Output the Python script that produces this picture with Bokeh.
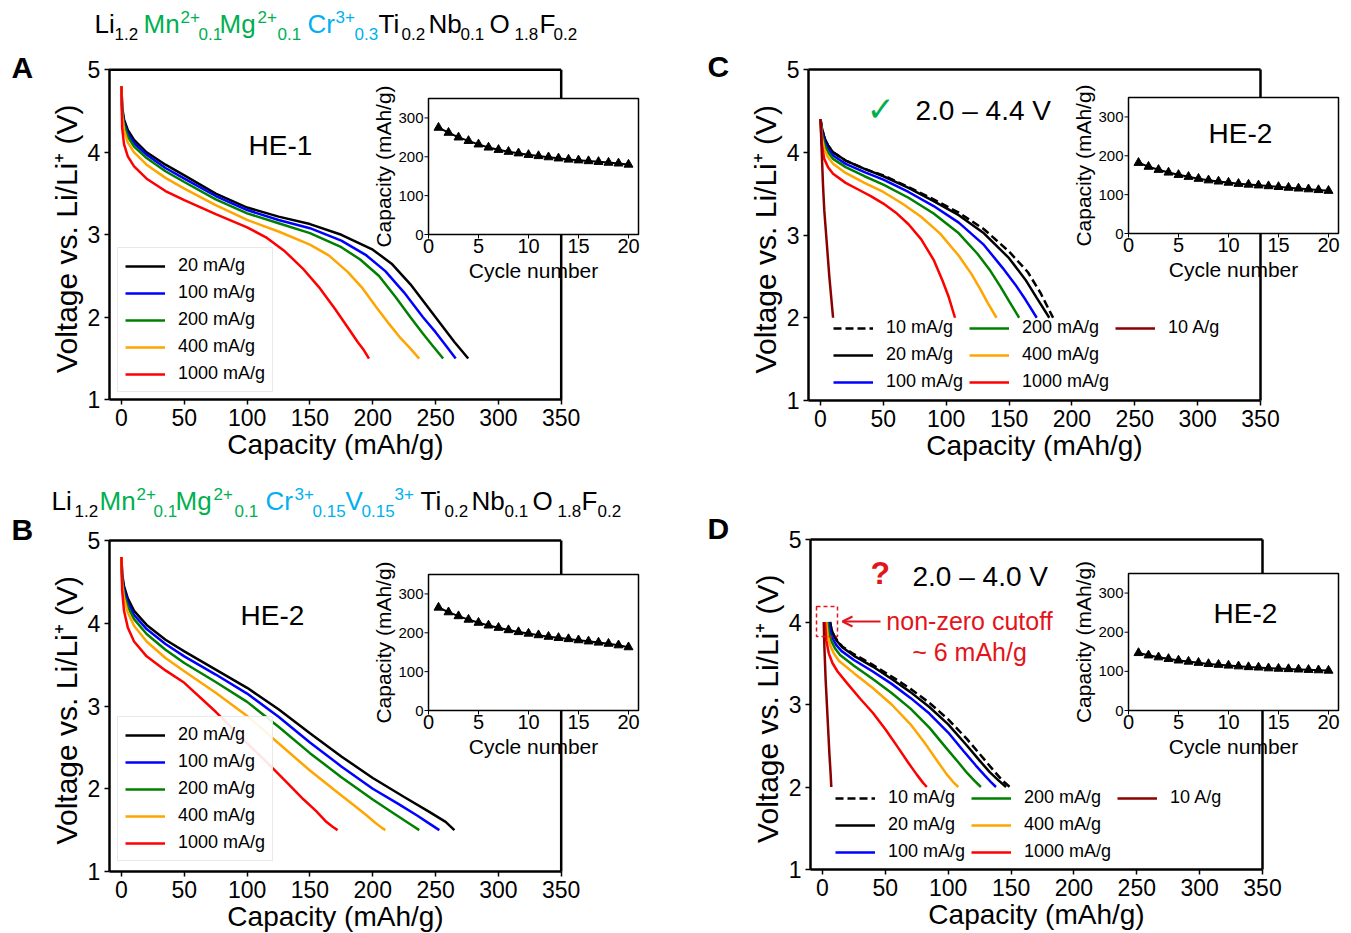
import math
from bokeh.plotting import figure
from bokeh.models import (Range1d, FixedTicker, Label, Legend, LegendItem, Arrow,
                          OpenHead, BoxAnnotation)
from bokeh.layouts import column, row
from bokeh.embed import file_html
from bokeh.resources import INLINE
from bokeh.core.properties import value

# ---------------------------------------------------------------- data
X_TICKS = [0, 50, 100, 150, 200, 250, 300, 350]
Y_TICKS = [1, 2, 3, 4, 5]
INSET_X_TICKS = [0, 5, 10, 15, 20]
INSET_Y_TICKS = [0, 100, 200, 300]
CYCLES = [1, 2, 3, 4, 5, 6, 7, 8, 9, 10, 11, 12, 13, 14, 15, 16, 17, 18, 19, 20]

A_RATES = ["20 mA/g", "100 mA/g", "200 mA/g", "400 mA/g", "1000 mA/g"]
CD_RATES = ["10 mA/g", "20 mA/g", "100 mA/g", "200 mA/g", "400 mA/g", "1000 mA/g", "10 A/g"]

# Panel A (HE-1, 1.5-4.8 V)
A_CAP_20 = [0, 0.5, 2, 5, 10, 20, 35, 50, 75, 100, 125, 150, 175, 200, 215, 230, 245, 255, 265, 276]
A_V_20 = [4.8, 4.55, 4.4, 4.27, 4.15, 4.0, 3.85, 3.72, 3.5, 3.33, 3.22, 3.13, 3.0, 2.82, 2.65, 2.4, 2.1, 1.9, 1.7, 1.5]
A_CAP_100 = [0, 0.5, 2, 5, 10, 20, 35, 50, 75, 100, 125, 150, 175, 195, 210, 225, 240, 250, 258, 266]
A_V_100 = [4.8, 4.52, 4.36, 4.23, 4.11, 3.97, 3.81, 3.68, 3.47, 3.3, 3.18, 3.08, 2.93, 2.75, 2.56, 2.3, 2.0, 1.82, 1.66, 1.5]
A_CAP_200 = [0, 0.5, 2, 5, 10, 20, 35, 50, 75, 100, 125, 150, 175, 190, 205, 218, 230, 240, 248, 256]
A_V_200 = [4.8, 4.5, 4.33, 4.19, 4.07, 3.93, 3.77, 3.64, 3.43, 3.26, 3.14, 3.02, 2.85, 2.7, 2.5, 2.25, 2.0, 1.8, 1.65, 1.5]
A_CAP_400 = [0, 0.5, 2, 5, 10, 20, 35, 50, 75, 100, 125, 150, 165, 180, 192, 203, 213, 222, 230, 237]
A_V_400 = [4.8, 4.45, 4.27, 4.12, 4.0, 3.85, 3.69, 3.56, 3.36, 3.18, 3.04, 2.88, 2.75, 2.55, 2.35, 2.12, 1.92, 1.75, 1.62, 1.5]
A_CAP_1000 = [0, 0.5, 2, 5, 10, 20, 35, 50, 75, 100, 115, 130, 145, 158, 170, 180, 188, 193, 197]
A_V_1000 = [4.8, 4.3, 4.1, 3.95, 3.83, 3.68, 3.53, 3.42, 3.25, 3.09, 2.97, 2.8, 2.58, 2.35, 2.1, 1.88, 1.7, 1.6, 1.5]

# Panel B (HE-2, 1.5-4.8 V)
B_CAP_20 = [0, 0.5, 2, 5, 10, 20, 35, 50, 75, 100, 125, 150, 175, 200, 225, 245, 258, 265]
B_V_20 = [4.8, 4.6, 4.45, 4.3, 4.15, 3.98, 3.8, 3.66, 3.44, 3.22, 2.96, 2.67, 2.39, 2.13, 1.9, 1.72, 1.6, 1.5]
B_CAP_100 = [0, 0.5, 2, 5, 10, 20, 35, 50, 75, 100, 125, 150, 175, 200, 220, 235, 246, 253]
B_V_100 = [4.8, 4.56, 4.4, 4.25, 4.1, 3.93, 3.75, 3.6, 3.38, 3.15, 2.87, 2.56, 2.27, 2.0, 1.82, 1.68, 1.57, 1.5]
B_CAP_200 = [0, 0.5, 2, 5, 10, 20, 35, 50, 75, 100, 125, 150, 175, 200, 215, 225, 232, 237]
B_V_200 = [4.8, 4.52, 4.35, 4.2, 4.05, 3.87, 3.68, 3.52, 3.29, 3.05, 2.75, 2.43, 2.14, 1.87, 1.72, 1.62, 1.55, 1.5]
B_CAP_400 = [0, 0.5, 2, 5, 10, 20, 35, 50, 75, 100, 125, 150, 170, 185, 195, 202, 207, 210]
B_V_400 = [4.8, 4.48, 4.3, 4.13, 3.97, 3.78, 3.58, 3.42, 3.16, 2.88, 2.55, 2.22, 1.98, 1.8, 1.68, 1.59, 1.53, 1.5]
B_CAP_1000 = [0, 0.5, 2, 5, 10, 20, 35, 50, 75, 100, 115, 130, 145, 155, 163, 168, 172]
B_V_1000 = [4.8, 4.4, 4.15, 3.95, 3.78, 3.6, 3.43, 3.28, 2.93, 2.55, 2.33, 2.1, 1.87, 1.73, 1.6, 1.54, 1.5]

# Panel C (HE-2, 2.0-4.4 V)
C_CAP_10 = [0, 1, 3, 6, 10, 20, 35, 50, 70, 90, 110, 130, 150, 165, 175, 185]
C_V_10 = [4.4, 4.3, 4.18, 4.08, 4.0, 3.9, 3.8, 3.72, 3.58, 3.43, 3.27, 3.07, 2.8, 2.55, 2.3, 2.0]
C_CAP_20 = [0, 1, 3, 6, 10, 20, 35, 50, 70, 90, 110, 130, 150, 163, 172, 182]
C_V_20 = [4.4, 4.3, 4.18, 4.08, 4.0, 3.9, 3.8, 3.71, 3.57, 3.41, 3.24, 3.02, 2.72, 2.46, 2.24, 2.0]
C_CAP_100 = [0, 1, 3, 6, 10, 20, 35, 50, 70, 90, 110, 130, 145, 155, 163, 172]
C_V_100 = [4.4, 4.27, 4.14, 4.04, 3.96, 3.86, 3.76, 3.67, 3.52, 3.35, 3.15, 2.88, 2.6, 2.4, 2.22, 2.0]
C_CAP_200 = [0, 1, 3, 6, 10, 20, 35, 50, 70, 90, 110, 125, 135, 143, 150, 158]
C_V_200 = [4.4, 4.23, 4.1, 4.0, 3.92, 3.82, 3.71, 3.61, 3.45, 3.26, 3.02, 2.77, 2.57, 2.38, 2.2, 2.0]
C_CAP_400 = [0, 1, 3, 6, 10, 20, 35, 50, 65, 80, 95, 110, 120, 127, 133, 140]
C_V_400 = [4.4, 4.18, 4.04, 3.94, 3.86, 3.75, 3.63, 3.52, 3.38, 3.22, 3.02, 2.75, 2.53, 2.35, 2.18, 2.0]
C_CAP_1000 = [0, 1, 3, 6, 10, 20, 30, 40, 50, 60, 70, 80, 90, 97, 102, 107]
C_V_1000 = [4.4, 4.1, 3.92, 3.82, 3.74, 3.63, 3.55, 3.47, 3.38, 3.27, 3.13, 2.95, 2.7, 2.45, 2.25, 2.0]
C_CAP_10A = [0, 1, 2, 3, 5, 7, 10]
C_V_10A = [4.4, 4.0, 3.6, 3.3, 2.9, 2.5, 2.0]

# Panel D (HE-2, 2.0-4.0 V)
D_CAP_10 = [6, 7, 9, 12, 16, 25, 40, 55, 70, 85, 100, 115, 125, 135, 143, 149]
D_V_10 = [4.0, 3.92, 3.84, 3.77, 3.7, 3.61, 3.48, 3.34, 3.19, 3.02, 2.82, 2.58, 2.4, 2.22, 2.08, 2.0]
D_CAP_20 = [6, 7, 9, 12, 16, 25, 40, 55, 70, 85, 100, 115, 125, 133, 140, 146]
D_V_20 = [4.0, 3.92, 3.83, 3.76, 3.69, 3.59, 3.46, 3.31, 3.15, 2.97, 2.76, 2.5, 2.32, 2.18, 2.08, 2.0]
D_CAP_100 = [5, 6, 8, 11, 15, 25, 40, 55, 70, 85, 100, 112, 122, 129, 134, 138]
D_V_100 = [4.0, 3.9, 3.8, 3.72, 3.65, 3.54, 3.4, 3.25, 3.08, 2.89, 2.66, 2.44, 2.26, 2.14, 2.06, 2.0]
D_CAP_200 = [4, 5, 7, 10, 14, 25, 40, 55, 70, 85, 98, 108, 115, 120, 126]
D_V_200 = [4.0, 3.88, 3.77, 3.68, 3.6, 3.47, 3.31, 3.14, 2.95, 2.72, 2.48, 2.3, 2.17, 2.09, 2.0]
D_CAP_400 = [3, 4, 6, 9, 13, 25, 40, 55, 70, 82, 92, 99, 104, 108]
D_V_400 = [4.0, 3.85, 3.72, 3.62, 3.53, 3.38, 3.2, 3.0, 2.76, 2.52, 2.3, 2.15, 2.06, 2.0]
D_CAP_1000 = [2, 3, 5, 8, 12, 20, 30, 40, 50, 60, 68, 75, 80, 83]
D_V_1000 = [4.0, 3.78, 3.62, 3.5, 3.4, 3.25, 3.07, 2.9, 2.7, 2.48, 2.3, 2.15, 2.05, 2.0]
D_CAP_10A = [1, 1.5, 2.5, 3.5, 4.5, 5.5, 6.5, 7]
D_V_10A = [4.0, 3.7, 3.3, 3.0, 2.7, 2.4, 2.15, 2.0]

# Insets: capacity vs cycle number
A_INSET_CAP = [275, 262, 250, 241, 232, 224, 218, 213, 209, 205, 202, 199, 196, 193, 191, 189, 187, 185, 183, 180]
B_INSET_CAP = [265, 253, 243, 234, 226, 219, 213, 207, 202, 198, 194, 190, 187, 184, 181, 178, 175, 172, 168, 163]
C_INSET_CAP = [182, 172, 164, 157, 151, 146, 141, 137, 134, 131, 128, 126, 124, 122, 120, 118, 116, 114, 112, 110]
D_INSET_CAP = [147, 141, 136, 132, 128, 125, 122, 119, 117, 115, 113, 111, 110, 108, 107, 106, 105, 104, 103, 102]

A_SERIES = [(A_RATES[0], A_CAP_20, A_V_20), (A_RATES[1], A_CAP_100, A_V_100),
            (A_RATES[2], A_CAP_200, A_V_200), (A_RATES[3], A_CAP_400, A_V_400),
            (A_RATES[4], A_CAP_1000, A_V_1000)]
B_SERIES = [(A_RATES[0], B_CAP_20, B_V_20), (A_RATES[1], B_CAP_100, B_V_100),
            (A_RATES[2], B_CAP_200, B_V_200), (A_RATES[3], B_CAP_400, B_V_400),
            (A_RATES[4], B_CAP_1000, B_V_1000)]
C_SERIES = [(CD_RATES[0], C_CAP_10, C_V_10), (CD_RATES[1], C_CAP_20, C_V_20),
            (CD_RATES[2], C_CAP_100, C_V_100), (CD_RATES[3], C_CAP_200, C_V_200),
            (CD_RATES[4], C_CAP_400, C_V_400), (CD_RATES[5], C_CAP_1000, C_V_1000),
            (CD_RATES[6], C_CAP_10A, C_V_10A)]
D_SERIES = [(CD_RATES[0], D_CAP_10, D_V_10), (CD_RATES[1], D_CAP_20, D_V_20),
            (CD_RATES[2], D_CAP_100, D_V_100), (CD_RATES[3], D_CAP_200, D_V_200),
            (CD_RATES[4], D_CAP_400, D_V_400), (CD_RATES[5], D_CAP_1000, D_V_1000),
            (CD_RATES[6], D_CAP_10A, D_V_10A)]

# ---------------------------------------------------------------- style
FONT = "Liberation Sans"
GREEN_T = "#00b050"
BLUE_T = "#00b0f0"
RED_T = "#e3141b"
RATE_STYLE = {
    "10 mA/g": ("black", "8 4"),
    "20 mA/g": ("black", "solid"),
    "100 mA/g": ("#0000ff", "solid"),
    "200 mA/g": ("#008000", "solid"),
    "400 mA/g": ("#ffa500", "solid"),
    "1000 mA/g": ("#ff0000", "solid"),
    "10 A/g": ("#8b0000", "solid"),
}

# panel geometry in page pixels (canvas = frame; axes are placed at 'ax')
GA = dict(x0=0, y0=0, w=690, h=475, ax=108.7, c0=121, c350=560.7, v5=69.3, v1=399.3)
GC = dict(x0=690, y0=0, w=660, h=475, ax=808, c0=820, c350=1260, v5=69, v1=400)
GB = dict(x0=0, y0=475, w=690, h=457, ax=108.7, c0=121, c350=560.7, v5=540, v1=871)
GD = dict(x0=690, y0=475, w=660, h=457, ax=810, c0=822, c350=1262, v5=539, v1=869)

IA = dict(l=428, r=638, t=98, b=234)
IC = dict(l=1128, r=1338, t=97, b=233)
IB = dict(l=428, r=638, t=574, b=710)
ID = dict(l=1128, r=1338, t=573, b=710)


def make_panel(g):
    sx = (g["c350"] - g["c0"]) / (X_TICKS[-1] - X_TICKS[0])
    sy = (g["v1"] - g["v5"]) / (Y_TICKS[-1] - Y_TICKS[0])
    X = lambda px: X_TICKS[0] + (px - g["c0"]) / sx
    Y = lambda py: Y_TICKS[0] + (g["v1"] - py) / sy
    p = figure(width=g["w"], height=g["h"],
               x_range=Range1d(X(g["x0"]), X(g["x0"] + g["w"])),
               y_range=Range1d(Y(g["y0"] + g["h"]), Y(g["y0"])),
               output_backend="svg", toolbar_location=None,
               min_border=0, min_border_left=0, min_border_right=0,
               min_border_top=0, min_border_bottom=0)
    p.outline_line_color = None
    p.xgrid.visible = False
    p.ygrid.visible = False
    p.xaxis.ticker = FixedTicker(ticks=X_TICKS)
    p.yaxis.ticker = FixedTicker(ticks=Y_TICKS)
    p.xaxis.fixed_location = Y_TICKS[0]
    p.yaxis.fixed_location = X(g["ax"])
    p.xaxis.bounds = (X(g["ax"]), X_TICKS[-1])
    p.yaxis.bounds = (Y_TICKS[0], Y_TICKS[-1])
    p.xaxis.axis_label = "Capacity (mAh/g)"
    p.yaxis.axis_label = "Voltage vs. Li/Li\u207a  (V)"
    for ax in (p.xaxis[0], p.yaxis[0]):
        ax.axis_line_width = 2.5
        ax.axis_line_color = "black"
        ax.major_tick_in = 0
        ax.major_tick_out = 5
        ax.major_tick_line_width = 1.5
        ax.major_tick_line_color = "black"
        ax.minor_tick_line_color = None
        ax.major_label_text_font = FONT
        ax.major_label_text_font_size = "23px"
        ax.major_label_text_color = "black"
        ax.major_label_standoff = 4
        ax.axis_label_text_font = FONT
        ax.axis_label_text_font_size = "28px"
        ax.axis_label_text_font_style = "normal"
        ax.axis_label_text_color = "black"
        ax.axis_label_standoff = 0
    p.yaxis.axis_label_text_font_size = "30px"
    p.yaxis.axis_label_standoff = 2
    # top and right spines
    p.segment(x0=[X(g["ax"]), X_TICKS[-1]], y0=[Y_TICKS[-1], Y_TICKS[0]],
              x1=[X_TICKS[-1], X_TICKS[-1]], y1=[Y_TICKS[-1], Y_TICKS[-1]],
              line_color="black", line_width=2.5)
    return p, X, Y


def draw_curves(p, series):
    rends = {}
    for lab_, cap, v in series:
        color, dash = RATE_STYLE[lab_]
        rends[lab_] = p.line(cap, v, line_color=color, line_width=2.5, line_dash=dash)
    return rends


def add_legend(p, rends, order, loc, nrows=None, border=True):
    items = [LegendItem(label=l_, renderers=[rends[l_]]) for l_ in order]
    kw = dict(items=items, location=loc, margin=0, label_text_font=FONT,
              label_text_font_size="18px", label_text_color="black",
              glyph_width=40, glyph_height=20, label_height=20, label_standoff=13,
              spacing=6)
    if nrows:
        kw.update(orientation="vertical", nrows=nrows)
    leg = Legend(**kw)
    if border:
        leg.padding = 7
        leg.border_line_color = "#d4d4d4"
        leg.border_line_width = 1
        leg.background_fill_alpha = 0.9
    else:
        leg.padding = 0
        leg.border_line_color = None
        leg.background_fill_alpha = 0
    p.add_layout(leg)


def add_inset(p, X, Y, ig, caps):
    x_lo, x_hi = INSET_X_TICKS[0], 21
    y_lo, y_hi = INSET_Y_TICKS[0], 350
    sub = p.subplot(x_source=Range1d(x_lo, x_hi), y_source=Range1d(y_lo, y_hi),
                    x_target=Range1d(X(ig["l"]), X(ig["r"])),
                    y_target=Range1d(Y(ig["b"]), Y(ig["t"])))
    kx = (ig["r"] - ig["l"]) / (x_hi - x_lo)
    ky = (ig["b"] - ig["t"]) / (y_hi - y_lo)
    sub.quad(left=[x_lo], right=[x_hi], bottom=[y_lo], top=[y_hi],
             fill_color="white", line_color="black", line_width=1.5)
    nx, ny = len(INSET_X_TICKS), len(INSET_Y_TICKS)
    sub.segment(x0=INSET_X_TICKS, y0=[y_lo] * nx, x1=INSET_X_TICKS, y1=[y_lo - 4 / ky] * nx,
                line_color="black", line_width=1)
    sub.segment(x0=[x_lo] * ny, y0=INSET_Y_TICKS, x1=[x_lo - 4 / kx] * ny, y1=INSET_Y_TICKS,
                line_color="black", line_width=1)
    sub.text(x=INSET_X_TICKS, y=[y_lo - 4 / ky] * nx, text=[str(t) for t in INSET_X_TICKS],
             text_align="center", text_baseline="top", text_font=value(FONT),
             text_font_size="20px", text_color="black")
    sub.text(x=[x_lo - 5 / kx] * ny, y=INSET_Y_TICKS, text=[str(t) for t in INSET_Y_TICKS],
             text_align="right", text_baseline="middle", text_font=value(FONT),
             text_font_size="15px", text_color="black")
    sub.text(x=[(x_lo + x_hi) / 2], y=[y_lo - 36 / ky], text=["Cycle number"],
             text_align="center", text_baseline="middle", text_font=value(FONT),
             text_font_size="21px", text_color="black")
    sub.text(x=[x_lo - 45 / kx], y=[(y_lo + y_hi) / 2], text=["Capacity (mAh/g)"],
             angle=math.pi / 2, text_align="center", text_baseline="middle",
             text_font=value(FONT), text_font_size="21px", text_color="black")
    sub.line(CYCLES, caps, line_color="black", line_width=2)
    sub.scatter(CYCLES, caps, marker="triangle", size=9, fill_color="black", line_color="black")


def lab(p, X, Y, px, py, text, size, color="black", align="left", baseline="middle",
        style="normal", font=FONT):
    p.add_layout(Label(x=X(px), y=Y(py), text=text, text_font=font, text_font_size=size,
                       text_color=color, text_align=align, text_baseline=baseline,
                       text_font_style=style))


def formula(p, X, Y, pieces, cy):
    for text, px, kind, color in pieces:
        if kind == "base":
            lab(p, X, Y, px, cy, text, "26px", color)
        elif kind == "sub":
            lab(p, X, Y, px, cy + 10, text, "17px", color)
        else:
            lab(p, X, Y, px, cy - 7, text, "17px", color)


FORMULA_A = [("Li", 94, "base", "black"), ("1.2", 114, "sub", "black"),
             ("Mn", 143, "base", GREEN_T), ("2+", 180, "sup", GREEN_T), ("0.1", 198, "sub", GREEN_T),
             ("Mg", 219, "base", GREEN_T), ("2+", 257, "sup", GREEN_T), ("0.1", 277, "sub", GREEN_T),
             ("Cr", 307, "base", BLUE_T), ("3+", 335, "sup", BLUE_T), ("0.3", 354, "sub", BLUE_T),
             ("Ti", 378, "base", "black"), ("0.2", 401, "sub", "black"),
             ("Nb", 428, "base", "black"), ("0.1", 460, "sub", "black"),
             ("O", 489, "base", "black"), ("1.8", 514, "sub", "black"),
             ("F", 539, "base", "black"), ("0.2", 553, "sub", "black")]
FORMULA_B = [("Li", 51, "base", "black"), ("1.2", 74, "sub", "black"),
             ("Mn", 99, "base", GREEN_T), ("2+", 136, "sup", GREEN_T), ("0.1", 153, "sub", GREEN_T),
             ("Mg", 175, "base", GREEN_T), ("2+", 213, "sup", GREEN_T), ("0.1", 234, "sub", GREEN_T),
             ("Cr", 265, "base", BLUE_T), ("3+", 294, "sup", BLUE_T), ("0.15", 312, "sub", BLUE_T),
             ("V", 345, "base", BLUE_T), ("0.15", 361, "sub", BLUE_T), ("3+", 394, "sup", BLUE_T),
             ("Ti", 420, "base", "black"), ("0.2", 444, "sub", "black"),
             ("Nb", 471, "base", "black"), ("0.1", 504, "sub", "black"),
             ("O", 532, "base", "black"), ("1.8", 557, "sub", "black"),
             ("F", 581, "base", "black"), ("0.2", 597, "sub", "black")]

# ---------------------------------------------------------------- panel A
pA, XA, YA = make_panel(GA)
rA = draw_curves(pA, A_SERIES)
add_inset(pA, XA, YA, IA, A_INSET_CAP)
add_legend(pA, rA, A_RATES, (117, 83))
lab(pA, XA, YA, 248, 145, "HE-1", "28px")
lab(pA, XA, YA, 11, 67, "A", "30px", style="bold")
formula(pA, XA, YA, FORMULA_A, 23)

# ---------------------------------------------------------------- panel C
pC, XC, YC = make_panel(GC)
rC = draw_curves(pC, C_SERIES)
add_inset(pC, XC, YC, IC, C_INSET_CAP)
add_legend(pC, rC, CD_RATES, (143, 83), nrows=3, border=False)
lab(pC, XC, YC, 1208, 133, "HE-2", "28px")
lab(pC, XC, YC, 707, 66, "C", "30px", style="bold")
lab(pC, XC, YC, 866, 108, "\u2713", "34px", color=GREEN_T, font="DejaVu Sans")
lab(pC, XC, YC, 915, 110, "2.0 \u2013 4.4 V", "28px")

# ---------------------------------------------------------------- panel B
pB, XB, YB = make_panel(GB)
rB = draw_curves(pB, B_SERIES)
add_inset(pB, XB, YB, IB, B_INSET_CAP)
add_legend(pB, rB, A_RATES, (117, 71))
lab(pB, XB, YB, 240, 615, "HE-2", "28px")
lab(pB, XB, YB, 11, 529, "B", "30px", style="bold")
formula(pB, XB, YB, FORMULA_B, 500)

# ---------------------------------------------------------------- panel D
pD, XD, YD = make_panel(GD)
rD = draw_curves(pD, D_SERIES)
add_inset(pD, XD, YD, ID, D_INSET_CAP)
add_legend(pD, rD, CD_RATES, (145, 70), nrows=3, border=False)
lab(pD, XD, YD, 1213, 613, "HE-2", "28px")
lab(pD, XD, YD, 707, 528, "D", "30px", style="bold")
lab(pD, XD, YD, 870, 572, "?", "32px", color=RED_T, style="bold")
lab(pD, XD, YD, 912, 576, "2.0 \u2013 4.0 V", "28px")
pD.add_layout(BoxAnnotation(left=XD(816), right=XD(837), top=YD(606), bottom=YD(636),
                            fill_alpha=0, line_alpha=1, line_color=RED_T, line_width=1.5,
                            line_dash="4 3"))
pD.add_layout(Arrow(end=OpenHead(size=10, line_color=RED_T, line_width=2),
                    x_start=XD(880), y_start=YD(621), x_end=XD(842), y_end=YD(621),
                    line_color=RED_T, line_width=2))
lab(pD, XD, YD, 969, 620, "non-zero cutoff", "25px", color=RED_T, align="center")
lab(pD, XD, YD, 969, 651, "~ 6 mAh/g", "25px", color=RED_T, align="center")

layout = column(row(pA, pC), row(pB, pD))
open("out.html", "w").write(file_html(layout, INLINE))
